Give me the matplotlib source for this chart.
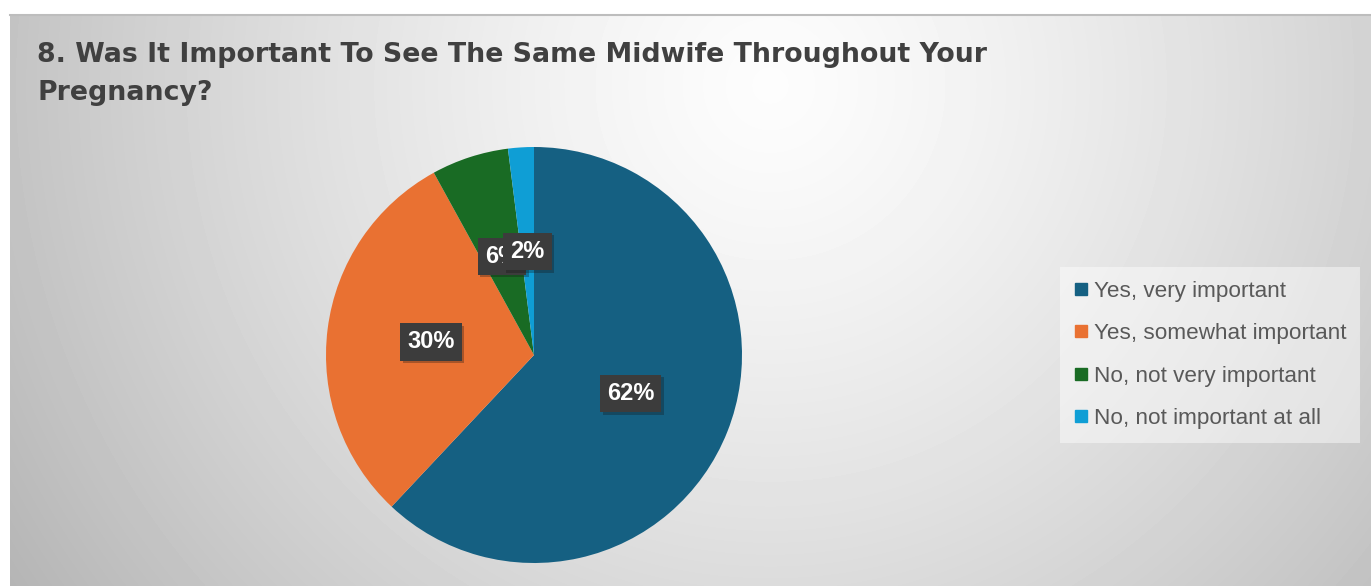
import numpy as np
import matplotlib
matplotlib.use("Agg")
from matplotlib import pyplot as plt
from matplotlib.lines import Line2D
import matplotlib.patheffects as pe

# survey answers
categories = ["Yes, very important", "Yes, somewhat important",
              "No, not very important", "No, not important at all"]
shares = [62, 30, 6, 2]
colors = ["#156082", "#E97132", "#196B24", "#0F9ED5"]
title_lines = ["8. Was It Important To See The Same Midwife Throughout Your",
               "Pregnancy?"]

W, H = 1371, 586
fig = plt.figure(figsize=(W / 100, H / 100), dpi=100)
fig.patch.set_facecolor("white")

# chart area background: soft radial grey gradient
bg = fig.add_axes([10 / W, 0, 1 - 10 / W, (H - 15) / H])
yy, xx = np.mgrid[0:H - 15, 0:W - 10]
r = np.sqrt(((xx - 760) / 700.0) ** 2 + ((yy - 70) / 700.0) ** 2)
v = 0.99 - 0.2 * np.clip(r, 0, 1.3) ** 1.3
bg.imshow(v, cmap="gray", vmin=0, vmax=1, aspect="auto", interpolation="bilinear")
bg.axis("off")
fig.add_artist(Line2D([10 / W, 1], [(H - 15) / H] * 2, color="#bdbdbd", lw=1.5))

# title
for txt, base in zip(title_lines, [62, 100]):
    fig.text(37 / W, (H - base) / H, txt, fontsize=19.3, fontweight="bold",
             color="#404040", family="DejaVu Sans", va="baseline")

# pie
cx, cy, rad = 534, 355, 208
ax = fig.add_axes([(cx - rad) / W, (H - cy - rad) / H, 2 * rad / W, 2 * rad / H])
wedges, texts, autotexts = ax.pie(shares, colors=colors, startangle=90, counterclock=False,
                                  radius=1, autopct="%d%%", pctdistance=0.5,
                                  textprops=dict(color="white", fontsize=17, fontweight="bold",
                                                 family="Liberation Sans"))
ax.set_xlim(-1, 1)
ax.set_ylim(-1, 1)
ax.axis("off")
for t in autotexts:
    t.set_bbox(dict(boxstyle="square,pad=0.3", fc="#3c3c3c", ec="none"))
    t.get_bbox_patch().set_path_effects([pe.withSimplePatchShadow(offset=(2, -2), alpha=0.3)])

# legend
handles = [Line2D([], [], marker="s", ls="none", color=c, markersize=8) for c in colors]
leg = fig.legend(handles, categories, loc="center", bbox_to_anchor=(1210 / W, (H - 355) / H),
                 frameon=True, labelspacing=0.95, handlelength=0.7,
                 handletextpad=0.25, borderpad=0.6, fancybox=False,
                 prop=dict(family="Liberation Sans", size=16.2))
leg.get_frame().set_facecolor("white")
leg.get_frame().set_alpha(0.45)
leg.get_frame().set_edgecolor("none")
for t in leg.get_texts():
    t.set_color("#595959")

fig.savefig("out.png", dpi=100)
